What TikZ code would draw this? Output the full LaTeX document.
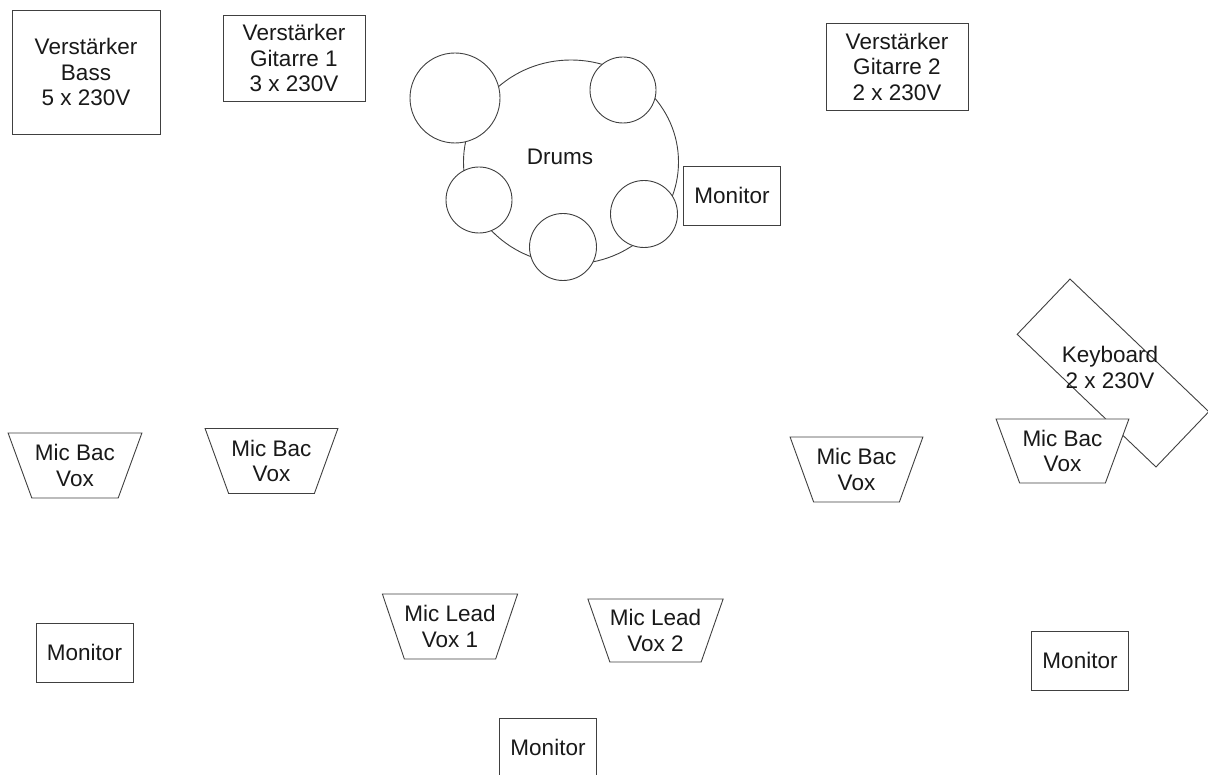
\documentclass[tikz,border=0pt]{standalone}
\usepackage{fontspec}
\setmainfont{Liberation Sans}
\usetikzlibrary{shapes.geometric}
\begin{document}
\begin{tikzpicture}[x=1pt,y=-1pt,
  every node/.style={font=\fontsize{22.5}{25.5}\selectfont, text=black!90, align=center, inner sep=0pt},
  ln/.style={draw=black!75, line width=0.9pt},
  boxn/.style={ln, rectangle, fill=white},
  mon/.style={boxn, minimum width=97pt, minimum height=59pt},
  mic/.style={ln, trapezium, shape border rotate=180, trapezium stretches=true, fill=white,
     minimum width=134pt, minimum height=65pt, trapezium left angle=62.4, trapezium right angle=62.4},
  drum/.style={ln, circle, fill=white},
]
\useasboundingbox (0,0) rectangle (1208,775);
\clip (0,0) rectangle (1208,775);
% amplifiers
\node[boxn, minimum width=148pt, minimum height=124pt] (bass) at (86,72) {Verstärker\\Bass\\5 x 230V};
\node[boxn, minimum width=142pt, minimum height=86pt] (git1) at (294,58) {Verstärker\\Gitarre 1\\3 x 230V};
\node[boxn, minimum width=142pt, minimum height=87pt] (git2) at (897,66.5) {Verstärker\\Gitarre 2\\2 x 230V};
% drums
\node[ln, ellipse, minimum width=215pt, minimum height=204pt] (kit) at (571,162) {};
\node (drumst) at (560,157) {Drums};
\node[drum, minimum size=90pt] (d1) at (455,98) {};
\node[drum, minimum size=66pt] (d2) at (623,90) {};
\node[drum, minimum size=66pt] (d3) at (479,200) {};
\node[drum, minimum size=67pt] (d4) at (563,247) {};
\node[drum, minimum size=67pt] (d5) at (644,214) {};
\node[mon] (mondr) at (732,195.5) {Monitor};
% keyboard
\node[ln, rectangle, rotate=-43.7, minimum width=192pt, minimum height=76.5pt] (kb) at (1113,373) {};
\node (kbt) at (1110,367.5) {Keyboard\\2 x 230V};
% mics
\node[mic] (m1) at (75,465.5) {Mic Bac\\Vox};
\node[mic, minimum width=133pt] (m2) at (271.5,461) {Mic Bac\\Vox};
\node[mic, minimum width=133pt] (m3) at (856.5,469.5) {Mic Bac\\Vox};
\node[mic, minimum width=133pt, minimum height=64pt] (m4) at (1062.5,451) {Mic Bac\\Vox};
\node[mic] (lv1) at (450,626.5) {Mic Lead\\Vox 1};
\node[mic, minimum width=135pt, minimum height=63pt] (lv2) at (655.5,630.5) {Mic Lead\\Vox 2};
% monitors
\node[mon] (monl) at (84.5,652.5) {Monitor};
\node[mon] (monr) at (1080,660.5) {Monitor};
\node[mon] (monb) at (548,747.5) {Monitor};
\end{tikzpicture}
\end{document}
